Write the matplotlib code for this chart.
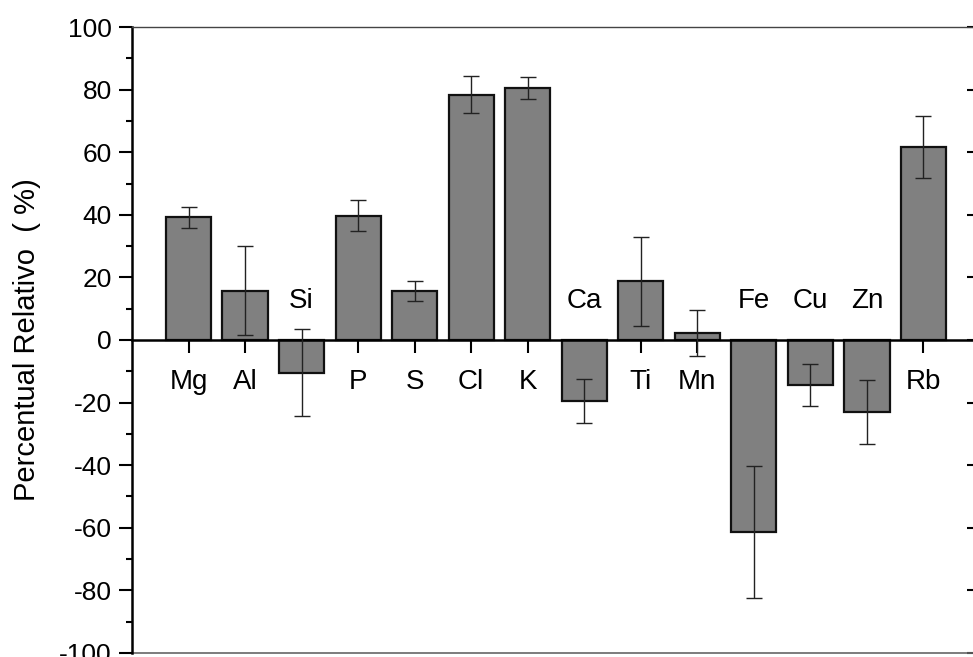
import matplotlib
matplotlib.use('Agg')
import matplotlib.pyplot as plt
from matplotlib.ticker import MultipleLocator
import numpy as np

elements = ['Mg', 'Al', 'Si', 'P', 'S', 'Cl', 'K', 'Ca', 'Ti', 'Mn', 'Fe', 'Cu', 'Zn', 'Rb']
rel_percent = [39.2, 15.8, -10.4, 39.7, 15.8, 78.3, 80.6, -19.5, 18.8, 2.3, -61.4, -14.4, -22.9, 61.6]
err_percent = [3.3, 14.3, 13.8, 5.0, 3.2, 5.9, 3.5, 7.0, 14.2, 7.3, 21.0, 6.8, 10.2, 10.0]

plt.rcParams['font.family'] = ['Liberation Sans', 'DejaVu Sans']
plt.rcParams['axes.unicode_minus'] = False

fig = plt.figure(figsize=(9.73, 6.57), dpi=100)
ax = fig.add_axes([0.1357, 0.0061, 0.8715, 0.9528])

x = np.arange(1, len(elements) + 1)
ax.bar(x, rel_percent, width=0.8, color='#808080', edgecolor='#111111', linewidth=1.6, zorder=2)
ax.errorbar(x, rel_percent, yerr=err_percent, fmt='none', ecolor='#222222',
            elinewidth=1.0, capsize=6, capthick=1.0, zorder=3)

# element names go on the opposite side of the zero line from the bar
for xi, name, val in zip(x, elements, rel_percent):
    ypos = -13.5 if val >= 0 else 12.5
    ax.text(xi, ypos, name, ha='center', va='center', fontsize=20)

ax.set_xlim(0, 15)
ax.set_ylim(-100, 100)

# x axis sits on the zero line, frame line drawn separately at the bottom
ax.spines['bottom'].set_position(('data', 0))
ax.spines['bottom'].set_linewidth(1.8)
ax.spines['left'].set_linewidth(1.8)
ax.spines['top'].set_linewidth(1.0)
ax.spines['top'].set_color('#444444')
ax.spines['right'].set_linewidth(1.8)
ax.axhline(-100, color='#666666', linewidth=1.2, clip_on=False, zorder=1)

ax.set_xticks(x)
ax.set_xticklabels([])
ax.tick_params(axis='x', direction='out', length=9.5, width=1.5, bottom=True, top=False)

ax.yaxis.set_major_locator(MultipleLocator(20))
ax.yaxis.set_minor_locator(MultipleLocator(10))
ax.tick_params(axis='y', which='major', direction='out', length=9.5, width=1.5,
               labelsize=19, pad=5, right=False)
ax.tick_params(axis='y', which='minor', direction='out', length=4.5, width=1.5, right=False)

# short inward ticks on the right frame
ax_r = ax.secondary_yaxis('right')
ax_r.yaxis.set_major_locator(MultipleLocator(20))
ax_r.tick_params(direction='in', length=9.5, width=1.5, labelright=False)
ax_r.spines['right'].set_linewidth(1.8)

ax.set_ylabel('Percentual Relativo  ( %)', fontsize=21, labelpad=13)

fig.savefig('out.png', dpi=100)
